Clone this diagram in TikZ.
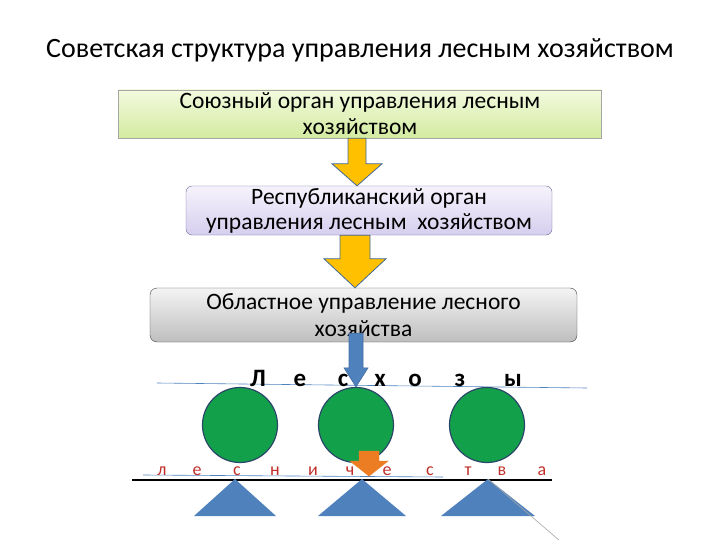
\documentclass[tikz,border=0pt]{standalone}
\usepackage{fontspec}
\setmainfont{Carlito}
\usetikzlibrary{calc}
\definecolor{soyuzT}{HTML}{F3FADF}
\definecolor{soyuzB}{HTML}{D3EBA0}
\definecolor{respT}{HTML}{F6F3FC}
\definecolor{respB}{HTML}{D6CEEE}
\definecolor{oblT}{HTML}{F4F4F4}
\definecolor{oblB}{HTML}{BEBEBE}
\definecolor{arrYellow}{HTML}{FFC000}
\definecolor{arrBlue}{HTML}{4F81BD}
\definecolor{arrOrange}{HTML}{EC7D23}
\definecolor{leskhoz}{HTML}{12A04B}
\definecolor{lesnich}{HTML}{C0302A}
\newcommand{\blockarrow}[6]{%
  \filldraw[#6] ($(#1)+(-#3,0)$) -- ($(#2)+(-#3,-#5)$) -- ($(#2)+(-#4,-#5)$)
    -- (#2) -- ($(#2)+(#4,-#5)$) -- ($(#2)+(#3,-#5)$) -- ($(#1)+(#3,0)$) -- cycle;}

\begin{document}
\begin{tikzpicture}[x=1pt,y=-1pt]
         \tikzset{level/.style={align=center,inner sep=0pt}}
         \tikzset{letter/.style={inner sep=0pt,anchor=base}}
         \useasboundingbox (0,0) rectangle (720,540);
         \node[font=\fontsize{28}{32}\selectfont] (title) at (360,50) {Советская структура управления лесным хозяйством};
         \node[level,draw=gray!70,top color=soyuzT,bottom color=soyuzB,minimum width=483,minimum height=48,
           font=\fontsize{23.5}{26}\selectfont] (union) at (360,114) {Союзный орган управления лесным\\хозяйством};
         \node[level,draw=gray!80!blue,rounded corners=6,top color=respT,bottom color=respB,minimum width=366,minimum height=49,
           font=\fontsize{23.5}{25}\selectfont] (rep) at (369,210.5) {Республиканский орган\\управления лесным\ \ хозяйством};
         \node[level,draw=black!75,rounded corners=7,top color=oblT,bottom color=oblB,minimum width=427,minimum height=54,
           font=\fontsize{23.5}{27}\selectfont] (obl) at (363.5,315) {Областное управление лесного\\хозяйства};
         \coordinate (a1s) at ($(union.south)+(-3,0)$);
         \coordinate (a1e) at (a1s |- rep.north);
         \coordinate (a2s) at ($(rep.south)+(-14,0)$);
         \coordinate (a2e) at (a2s |- obl.north);
         \blockarrow{a1s}{a1e}{9}{25}{22}{fill=arrYellow,draw=arrBlue!80!black,line width=.8pt}
         \blockarrow{a2s}{a2e}{15}{31}{29}{fill=arrYellow,draw=arrBlue!80!black,line width=.8pt}
         \draw[arrBlue,line width=.6pt] (157,383) -- (587,388);
         \foreach \ch/\x [count=\i] in {Л/258,е/300,с/343,х/380,о/415,з/460,ы/513}
           \node[letter,font=\fontsize{25}{28}\selectfont\bfseries] (lh\i) at (\x,386) {\ch};
         \foreach \x [count=\i] in {240,356,487}
           \node[circle,fill=leskhoz,draw=arrBlue!55!black,line width=1.2pt,minimum size=75] (tree\i) at (\x,425) {};
         \coordinate (a3s) at ($(obl.south)+(-7.5,-9)$);
         \coordinate (a3e) at (a3s |- tree2.north);
         \blockarrow{a3s}{a3e}{7}{12}{19}{fill=arrBlue,draw=arrBlue!85!black,line width=.6pt}
         \draw[arrBlue,line width=.6pt] (143,475) -- (443,477);
         \foreach \ch/\x [count=\i] in {л/162,е/197,с/237,н/275,и/313,ч/350,е/387,с/430,т/468,в/502,а/542}
           \node[letter,text=lesnich,font=\fontsize{18}{20}\selectfont] (ln\i) at (\x,475) {\ch};
         \coordinate (a4s) at ($(tree2.south)+(13,-12)$);
         \coordinate (a4e) at ($(a4s)+(0,25)$);
         \blockarrow{a4s}{a4e}{10}{19}{15}{fill=arrOrange,draw=arrOrange}
         \draw[line width=2.2pt] (132,480) coordinate (g1) -- (552,480) coordinate (g2);
         \foreach \x/\w [count=\i] in {235/41,362/44,488/47}
           \fill[arrBlue] (\x,479) coordinate (top\i) -- ($(top\i)+(\w,37)$) -- ($(top\i)+(-\w,37)$) -- cycle;
         \draw[gray!70,line width=.6pt] (top3) -- ++(72,62);
      \end{tikzpicture}
\end{document}
